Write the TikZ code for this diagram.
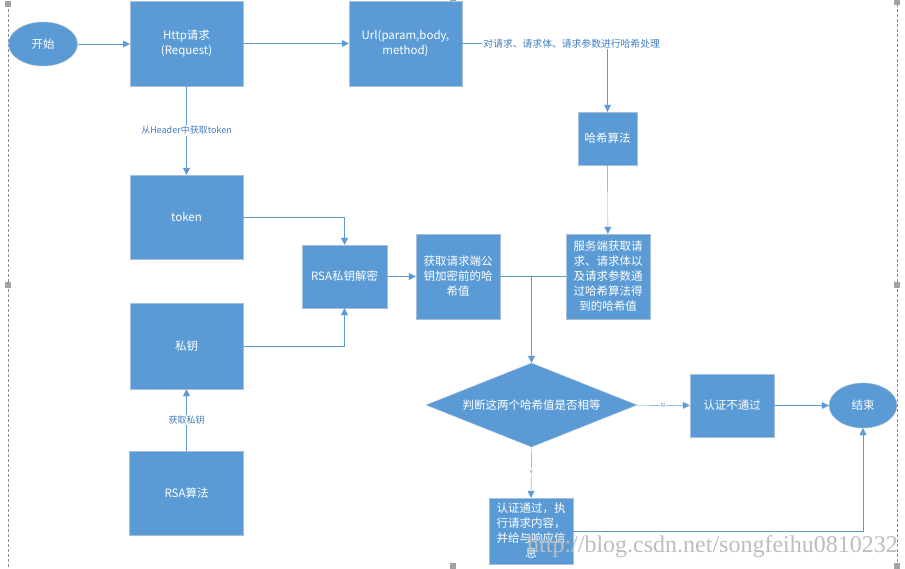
\documentclass[tikz,border=0pt]{standalone}
\usepackage{fontspec}
\setmainfont{Noto Sans CJK SC}
\newfontfamily\markfont{Liberation Serif}
\usepackage{xcolor}
\definecolor{cFill}{HTML}{5B9BD5}
\definecolor{cEdge}{HTML}{A9BED8}
\definecolor{cLine}{HTML}{5E9BD6}
\definecolor{cText}{HTML}{3F7EC0}
\definecolor{cFrame}{HTML}{8C8C8C}
\definecolor{cMark}{HTML}{BDBDBD}
\usetikzlibrary{positioning,arrows.meta,shapes.geometric}
\tikzset{
  node-box/.style={draw=cEdge,fill=cFill,thin,align=center,text=white,
    font=\fontsize{11.5}{15}\selectfont,inner sep=1pt},
  node-end/.style={node-box,ellipse},
  node-judge/.style={node-box,diamond,inner sep=0pt,aspect=2.5,
    minimum width=211pt,minimum height=84pt},
  msg/.style={fill=white,text=cText,inner sep=1pt,
    font=\fontsize{9}{11}\selectfont},
  msg-tiny/.style={msg,font=\fontsize{5.5}{7}\selectfont},
  arrow/.style={-{Triangle[length=7pt,width=7pt]},thin,draw=cLine},
  plain-line/.style={thin,draw=cLine},
  frame/.style={densely dashed,draw=cFrame,thin},
  handle/.style={fill=cFrame!80,draw=none},
}
\begin{document}
\begin{tikzpicture}[x=1pt,y=-1pt]
  \useasboundingbox (0,0) rectangle (905,568);
  % selection frame
  \draw[frame] (8,4) -- (8,568);
  \draw[frame] (897,4) -- (897,568);
  \foreach \hx/\hy in {8/4, 453/2, 897/2, 8/285, 897/285, 453/566, 897/566} {
    \fill[handle] (\hx-3,\hy-3) rectangle (\hx+3,\hy+3);
  }
  % upper row
  \node[node-end,minimum width=69pt,minimum height=44pt] (start) at (43,44) {开始};
  \node[node-box,minimum width=113pt,minimum height=85pt] (http) at (186.5,43.5) {Http请求\\(Request)};
  \node[node-box,minimum width=113pt,minimum height=85pt] (url) at (405.5,43.5) {Url(param,body,\\method)};
  \node[node-box,minimum width=59pt,minimum height=53pt] (hash) at (607.5,138.5) {哈希算法};
  % left column
  \node[node-box,minimum width=113pt,minimum height=84pt] (token) at (186.5,217) {token};
  \node[node-box,minimum width=113pt,minimum height=86pt] (key) at (186.5,346) {私钥};
  \node[node-box,minimum width=114pt,minimum height=84pt] (algo) at (186.5,493) {RSA算法};
  % middle row
  \node[node-box,minimum width=85pt,minimum height=63pt] (rsa) at (344.5,276.5) {RSA私钥解密};
  \node[node-box,minimum width=84pt,minimum height=85pt] (pubkey) at (458,276.5) {获取请求端公\\钥加密前的哈\\希值};
  \node[node-box,minimum width=84pt,minimum height=85pt] (server) at (608,276.5) {服务端获取请\\求、请求体以\\及请求参数通\\过哈希算法得\\到的哈希值};
  % decision
  \node[node-judge] (judge) at (531.5,405) {判断这两个哈希值是否相等};
  \node[node-box,minimum width=84pt,minimum height=63pt] (fail) at (732,405.5) {认证不通过};
  \node[node-end,minimum width=68pt,minimum height=45pt] (end) at (863,405.5) {结束};
  \node[node-box,minimum width=84pt,minimum height=66pt] (pass) at (531,531) {认证通过，执\\行请求内容，\\并给与响应信\\息};
  % watermark
  \node[text=cMark,anchor=west,inner sep=0pt] (mark) at (527,547)
    {\markfont\fontsize{24}{24}\selectfont http://blog.csdn.net/songfeihu0810232};
  % connectors
  \draw[arrow] (start.east) -- (start.east -| http.west);
  \draw[arrow] (http) -- (url);
  \draw[arrow] (url.east) -- node[msg,pos=0.138,anchor=west,font=\fontsize{9.8}{11}\selectfont]{对请求、请求体、请求参数进行哈希处理}
    (url.east -| hash.north) -- (hash.north);
  \draw[arrow] (hash) -- (server);
  \draw[arrow] (http) -- node[msg]{从Header中获取token} (token);
  \draw[arrow] (token.east) -| (rsa.north);
  \draw[arrow] (key.east) -| (rsa.south);
  \draw[arrow] (algo) -- node[msg]{获取私钥} (key);
  \draw[arrow] (rsa) -- (pubkey);
  \draw[plain-line] (pubkey) -- (server);
  \coordinate (join) at (judge.north |- pubkey.east);
  \draw[arrow] (join) -- (judge.north);
  \draw[arrow] (judge) -- node[msg-tiny]{N} (fail);
  \draw[arrow] (fail) -- (end);
  \draw[arrow] (judge.south) -- node[msg-tiny,pos=0.5]{Y} (pass.north);
  \draw[arrow] (pass.east) -| (end.south);
\end{tikzpicture}
\end{document}
